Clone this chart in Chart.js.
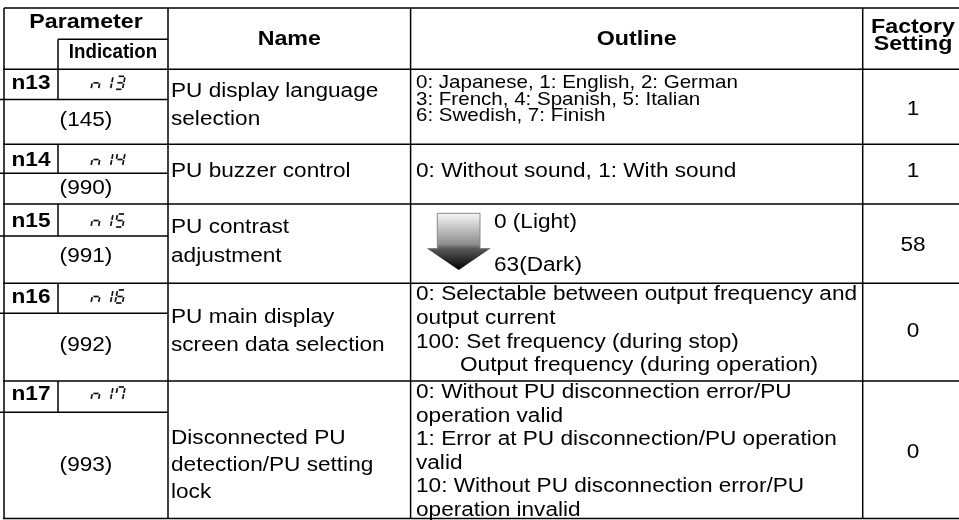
<!DOCTYPE html>
<html>
<head>
<meta charset="utf-8">
<script src="https://cdn.jsdelivr.net/npm/chart.js@4.4.1/dist/chart.umd.min.js"></script>
<style>
  html, body { margin: 0; padding: 0; background: #fff; overflow: hidden; }
  canvas { display: block; }
</style>
</head>
<body>
<canvas id="paramTable" width="959" height="520"></canvas>
<script>
// table content
const headParam = 'Parameter';
const headIndication = 'Indication';
const headName = 'Name';
const headOutline = 'Outline';
const headFactory = ['Factory', 'Setting'];

const paramCodes = ['n13', 'n14', 'n15', 'n16', 'n17'];
const indications = ['n13', 'n14', 'n15', 'n16', 'n17'];   // shown on the 7-segment display
const commNumbers = ['(145)', '(990)', '(991)', '(992)', '(993)'];
const names = [
    ['PU display language', 'selection'],
    ['PU buzzer control'],
    ['PU contrast', 'adjustment'],
    ['PU main display', 'screen data selection'],
    ['Disconnected PU', 'detection/PU setting', 'lock']
];
const outlines = [
    ['0: Japanese, 1: English, 2: German', '3: French, 4: Spanish, 5: Italian', '6: Swedish, 7: Finish'],
    ['0: Without sound, 1: With sound'],
    ['0 (Light)', '63(Dark)'],
    ['0: Selectable between output frequency and', 'output current', '100: Set frequency (during stop)', '    Output frequency (during operation)'],
    ['0: Without PU disconnection error/PU', 'operation valid', '1: Error at PU disconnection/PU operation', 'valid', '10: Without PU disconnection error/PU', 'operation invalid']
];
const factorySettings = ['1', '1', '58', '0', '0'];

// ---- layout (original picture units) ----
const colX = { left: 4, ind: 58, name: 168, outline: 410.6, factory: 862.7, right: 963 };
const topY = 8, headSplitY = 39.3, headBottomY = 69.3;
const rowBottoms = [144.3, 204, 283.3, 381, 518.5];
const rowSplits = [99.5, 173.3, 236, 313.3, 412.3];
const codeBase = [89.3, 166, 227, 303, 400];
const numBase = [126, 194, 262, 351, 471];
const nameBase = [[97.3, 124.5], [176.5], [233, 262], [323, 351], [444, 471, 498]];
const outlineBase = [[88, 104.5, 121], [176.5], [228, 271], [300, 324, 347.5, 371], [398, 421.5, 445, 468.5, 492, 515.5]];
const factoryBase = [115, 176.5, 251, 337, 458];

const FONT = '"Liberation Sans", Arial, Helvetica, sans-serif';
const SX = 1.13;

// 7-segment patterns
const SEGS = {
    n: 'ceg', '1': 'bc', '3': 'abcdg', '4': 'bcfg', '5': 'acdfg', '6': 'acdefg', '7': 'abcf'
};

const tablePlugin = {
    id: 'tablePlugin',
    afterDraw(chart) {
        const ctx = chart.ctx;
        const xs = chart.scales.x, ys = chart.scales.y;
        const px = v => xs.getPixelForValue(v);
        const py = v => ys.getPixelForValue(v);

        function text(str, x, y, align, font, sx) {
            ctx.save();
            ctx.font = font;
            ctx.fillStyle = '#000';
            ctx.textBaseline = 'alphabetic';
            ctx.textAlign = 'left';
            const w = ctx.measureText(str).width * sx;
            let left = px(x);
            if (align === 'center') left -= w / 2;
            ctx.translate(left, py(y));
            ctx.scale(sx, 1);
            ctx.fillText(str, 0, 0);
            ctx.restore();
        }
        function hline(x1, x2, y) {
            ctx.beginPath();
            ctx.moveTo(px(x1), py(y));
            ctx.lineTo(px(x2), py(y));
            ctx.stroke();
        }
        function vline(x, y1, y2) {
            ctx.beginPath();
            ctx.moveTo(px(x), py(y1));
            ctx.lineTo(px(x), py(y2));
            ctx.stroke();
        }
        function segDigit(ch, x0, y0) {
            const W = 7.5, H = 13, s = 0.2, g = 1.1;
            const P = (a, b) => [px(x0 + a + s * b), py(y0 - b)];
            const defs = {
                a: [[g, H], [W - g, H]], b: [[W, H - g], [W, H / 2 + g * 0.6]],
                c: [[W, H / 2 - g * 0.6], [W, g]], d: [[g, 0], [W - g, 0]],
                e: [[0, H / 2 - g * 0.6], [0, g]], f: [[0, H - g], [0, H / 2 + g * 0.6]],
                g: [[g, H / 2], [W - g, H / 2]]
            };
            for (const k of SEGS[ch] || '') {
                const [p1, p2] = defs[k];
                const a = P(p1[0], p1[1]), b = P(p2[0], p2[1]);
                ctx.beginPath();
                ctx.moveTo(a[0], a[1]);
                ctx.lineTo(b[0], b[1]);
                ctx.stroke();
            }
        }

        ctx.save();
        // grid
        ctx.strokeStyle = '#000';
        ctx.lineWidth = 1.5;
        hline(colX.left, colX.right, topY);
        hline(colX.ind, colX.name, headSplitY);
        hline(colX.left - 1, colX.right, headBottomY);
        rowBottoms.forEach(y => hline(colX.left - 1, colX.right, y));
        rowSplits.forEach(y => hline(0, colX.name, y));
        vline(colX.left, topY, rowBottoms[rowBottoms.length - 1]);
        vline(colX.name, topY, rowBottoms[rowBottoms.length - 1]);
        vline(colX.outline, topY, rowBottoms[rowBottoms.length - 1]);
        vline(colX.factory, topY, rowBottoms[rowBottoms.length - 1]);
        vline(colX.ind, headSplitY, headBottomY);
        let prev = headBottomY;
        rowSplits.forEach((y, i) => { vline(colX.ind, prev, y); prev = rowBottoms[i]; });

        // header
        const bold = 'bold 20px ' + FONT;
        text(headParam, (colX.left + colX.name) / 2, 28.3, 'center', bold, 1.16);
        text(headIndication, (colX.ind + colX.name) / 2, 58, 'center', 'bold 21px ' + FONT, 0.89);
        text(headName, (colX.name + colX.outline) / 2, 45, 'center', bold, 1.16);
        text(headOutline, (colX.outline + colX.factory) / 2, 45, 'center', bold, 1.16);
        text(headFactory[0], 913, 32.5, 'center', bold, 1.16);
        text(headFactory[1], 913, 49.5, 'center', bold, 1.16);

        const body = '20px ' + FONT;
        paramCodes.forEach((code, i) => {
            text(code, (colX.left + colX.ind) / 2, codeBase[i], 'center', bold, SX);
            // 7-segment indication
            ctx.lineWidth = 1.7;
            ctx.strokeStyle = '#111';
            ctx.lineCap = 'butt';
            const chars = indications[i].split('');
            chars.forEach((ch, k) => segDigit(ch, 91 + k * 12, codeBase[i]));
            text(commNumbers[i], (colX.left + colX.name) / 2, numBase[i], 'center', body, SX);
            names[i].forEach((ln, k) => text(ln, 171, nameBase[i][k], 'left', body, SX));
            outlines[i].forEach((ln, k) => {
                const lead = ln.length - ln.trimStart().length;
                const x = i === 2 ? 494 : 416 + (lead ? 44 : 0);
                // the language list is set a little smaller and tighter in the source
                const f = i === 0 ? '18.5px ' + FONT : body;
                text(ln.trimStart(), x, outlineBase[i][k], 'left', f, i === 0 ? 1.11 : SX);
            });
            text(factorySettings[i], 913, factoryBase[i], 'center', body, SX);
        });

        // contrast arrow (light -> dark)
        const grad = ctx.createLinearGradient(0, py(213.3), 0, py(270));
        grad.addColorStop(0, '#f7f7f7');
        grad.addColorStop(0.55, '#8c8c8c');
        grad.addColorStop(0.62, '#5a5a5a');
        grad.addColorStop(1, '#000');
        ctx.fillStyle = grad;
        ctx.beginPath();
        ctx.moveTo(px(437.3), py(213.3));
        ctx.lineTo(px(480), py(213.3));
        ctx.lineTo(px(480), py(248.3));
        ctx.lineTo(px(490.7), py(248.3));
        ctx.lineTo(px(458.7), py(270));
        ctx.lineTo(px(426.7), py(248.3));
        ctx.lineTo(px(437.3), py(248.3));
        ctx.closePath();
        ctx.fill();
        ctx.strokeStyle = '#8a8a8a';
        ctx.lineWidth = 1;
        ctx.beginPath();
        ctx.moveTo(px(437.3), py(248.3));
        ctx.lineTo(px(437.3), py(213.3));
        ctx.lineTo(px(480), py(213.3));
        ctx.lineTo(px(480), py(248.3));
        ctx.stroke();
        ctx.restore();
    }
};

new Chart(document.getElementById('paramTable'), {
    type: 'scatter',
    data: { datasets: [{ data: [], pointRadius: 0 }] },
    options: {
        responsive: false,
        animation: false,
        layout: { padding: 0 },
        plugins: { legend: { display: false }, tooltip: { enabled: false } },
        scales: {
            x: { type: 'linear', min: 0, max: 959, display: false },
            y: { type: 'linear', min: 0, max: 520, reverse: true, display: false }
        }
    },
    plugins: [tablePlugin]
});
</script>
</body>
</html>
